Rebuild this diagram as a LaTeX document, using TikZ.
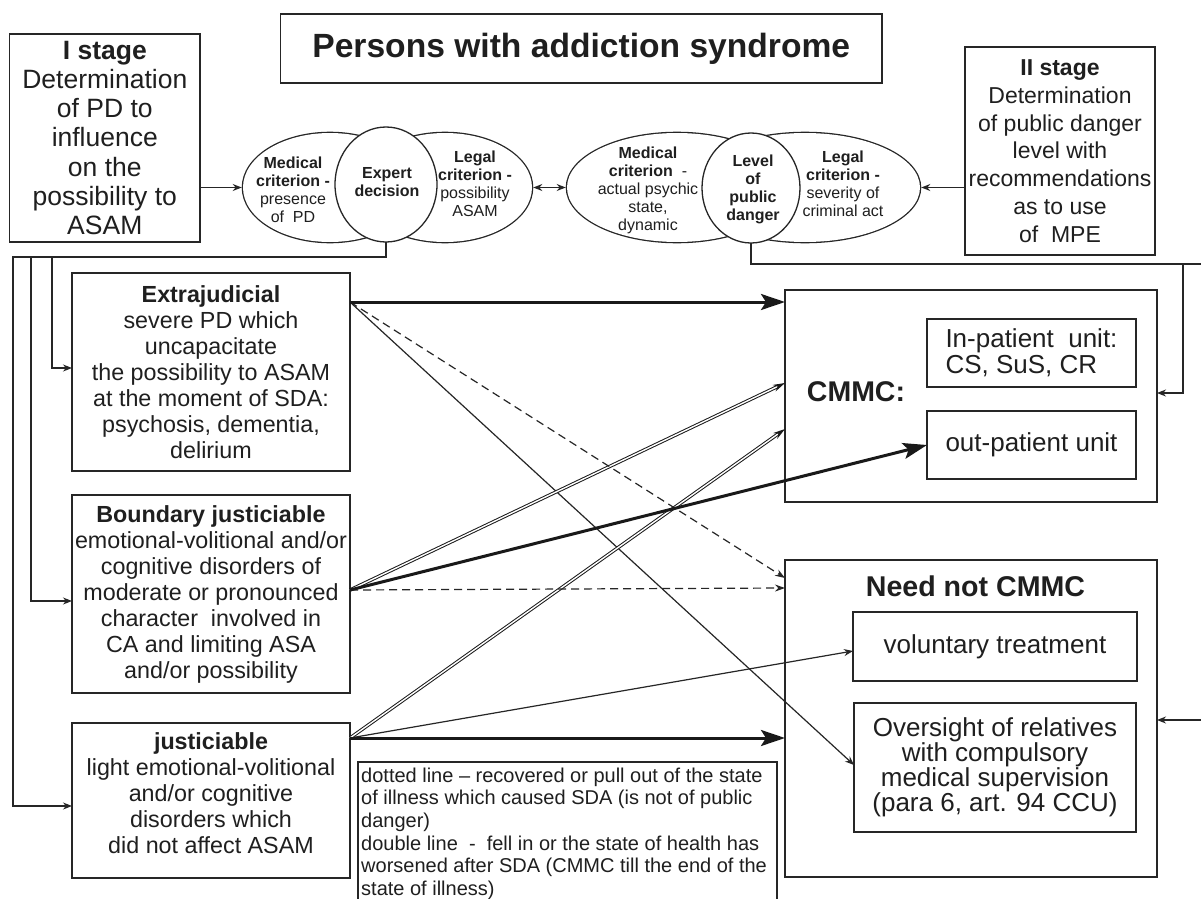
\documentclass[tikz,border=0pt]{standalone}
\usepackage{fontspec}
\setmainfont{Liberation Sans}
\usetikzlibrary{arrows.meta,shapes.geometric}
\newcommand\myfs[2]{\fontsize{#1bp}{#2bp}\selectfont}
\begin{document}
\begin{tikzpicture}[x=1bp,y=-1bp,
  box/.style={draw=black!85, line width=1.3bp, fill=white, inner sep=0pt, outer sep=0pt, text=black!88},
  txt/.style={align=center, inner sep=0pt, text=black!88},
  ellstroke/.style={ellipse, draw=black!85, line width=2.6bp, inner sep=0pt},
  circ/.style={ellipse, draw=black!85, fill=white, line width=1.3bp, inner sep=0pt, outer sep=0pt},
  plain/.style={draw=black!85, line width=1.2bp},
  tarrow/.style={draw=black!85, line width=1.2bp, -{Stealth[length=9bp,width=7bp]}},
  barrow/.style={draw=black!90, line width=3bp, -{Stealth[length=24bp,width=16bp,inset=5bp]}},
  dsh/.style={draw=black!85, line width=1.2bp, dash pattern=on 8bp off 5bp, -{Stealth[length=10bp,width=7bp]}},
  dbl/.style={draw=black!90, line width=1bp, double=white, double distance=1.4bp, -{Stealth[length=12bp,width=7bp]}},
  etxt/.style={txt, font=\myfs{16}{18}}
]
\useasboundingbox (0,0) rectangle (1201,899);
\fill[white] (0,0) rectangle (1201,899);

% ---------- top boxes
\node[box, minimum width=190.4bp, minimum height=208bp, font=\myfs{26.5}{29.2}, align=center] (stage1) at (104.8,138)
  {\textbf{I stage}\\Determination\\of PD to\\influence\\on the\\possibility to\\ASAM};
\node[box, minimum width=601.5bp, minimum height=69bp, font=\myfs{33.6}{36}\bfseries] (title) at (581.25,48.5)
  {Persons with addiction syndrome};
\node[box, minimum width=190bp, minimum height=208bp, font=\myfs{23}{27.8}, align=center] (stage2) at (1060,151)
  {\textbf{II stage}\\Determination\\of public danger\\level with\\recommendations\\as to use\\of~~MPE};

% ---------- ellipse group 1
\node[ellstroke, minimum width=174bp, minimum height=109bp] (med1) at (330,187.5) {};
\node[ellstroke, minimum width=174bp, minimum height=109bp] (leg1) at (445,187.5) {};
\fill[white] (330,187.5) ellipse [x radius=87, y radius=54.5];
\fill[white] (445,187.5) ellipse [x radius=87, y radius=54.5];
\node[circ, minimum width=102bp, minimum height=115bp] (exp1) at (386,184.5) {};
\node[etxt] (med1T) at (293,189.5) {\textbf{Medical}\\\textbf{criterion -}\\presence\\of~~PD};
\node[etxt] (exp1T) at (387,182) {\textbf{Expert}\\\textbf{decision}};
\node[etxt] (leg1T) at (475,184) {\textbf{Legal}\\\textbf{criterion -}\\possibility\\ASAM};

% ---------- ellipse group 2
\node[ellstroke, minimum width=220bp, minimum height=109bp] (med2) at (677,187.5) {};
\node[ellstroke, minimum width=230bp, minimum height=109bp] (leg2) at (805,187.5) {};
\fill[white] (677,187.5) ellipse [x radius=110, y radius=54.5];
\fill[white] (805,187.5) ellipse [x radius=115, y radius=54.5];
\node[circ, minimum width=98bp, minimum height=110bp] (lvl) at (751,188) {};
\node[etxt] (med2T) at (648,190) {\textbf{Medical}\\\textbf{criterion}~~-\\actual psychic\\state,\\dynamic};
\node[etxt] (lvlT) at (753,189.5) {\textbf{Level}\\\textbf{of}\\\textbf{public}\\\textbf{danger}};
\node[etxt] (leg2T) at (843,184) {\textbf{Legal}\\\textbf{criterion -}\\severity of\\criminal act};

% ---------- left boxes
\node[box, minimum width=278bp, minimum height=198bp, font=\myfs{23.3}{26}, align=center] (extra) at (211,372)
  {\textbf{Extrajudicial}\\severe PD which\\uncapacitate\\the possibility to ASAM\\at the moment of SDA:\\psychosis, dementia,\\delirium};
\node[box, minimum width=278bp, minimum height=198bp, font=\myfs{23.3}{26}, align=center] (bound) at (211,594)
  {\textbf{Boundary justiciable}\\emotional-volitional and/or\\cognitive disorders of\\moderate or pronounced\\character~~involved in\\CA and limiting ASA\\and/or possibility};
\node[box, minimum width=278bp, minimum height=155bp] (just) at (211,800.5) {};
\node[txt, font=\myfs{23.3}{26}] (justT) at (211,793)
  {\textbf{justiciable}\\light emotional-volitional\\and/or cognitive\\disorders which\\did not affect ASAM};

% ---------- right boxes
\node[box, minimum width=372bp, minimum height=212bp] (cmmc) at (971,396) {};
\node[txt, font=\myfs{28.5}{30}\bfseries] (cmmcT) at (856,392) {CMMC:};
\node[box, minimum width=209bp, minimum height=68bp, font=\myfs{26}{26}, align=left] (inp) at (1031.5,353)
  {In-patient~~unit:\\CS, SuS, CR};
\node[box, minimum width=209bp, minimum height=68bp, font=\myfs{26}{26}] (outp) at (1031.5,445) {out-patient unit};
\node[box, minimum width=372bp, minimum height=317bp] (need) at (971,718.5) {};
\node[txt, font=\myfs{28.6}{30}\bfseries] (needT) at (975.5,586) {Need not CMMC};
\node[box, minimum width=284bp, minimum height=69bp, font=\myfs{26}{26}] (vol) at (995,646.5) {voluntary treatment};
\node[box, minimum width=282bp, minimum height=129bp, font=\myfs{26}{25}, align=center] (over) at (995,767.5)
  {Oversight of relatives\\with compulsory\\medical supervision\\(para 6, art. 94 CCU)};

% ---------- legend
\node[box, minimum width=419bp, minimum height=143bp] (legend) at (567.5,833.5) {};
\node[txt, align=left, anchor=north west, font=\myfs{20}{22.6}] (legendT) at (361,767.5)
  {dotted line – recovered or pull out of the state\\of illness which caused SDA (is not of public\\danger)\\double line~~-~~fell in or the state of health has\\worsened after SDA (CMMC till the end of the\\state of illness)};

% ---------- top connectors
\draw[tarrow] (stage1.east |- med1.west) -- (med1.west);
\draw[plain, {Stealth[length=9bp,width=7bp]}-{Stealth[length=9bp,width=7bp]}] (leg1.east) -- (med2.west);
\draw[tarrow] (stage2.west |- leg2.east) -- (leg2.east);

% ---------- left bus
\coordinate (b0) at (13,257);
\coordinate (b0e) at (13,806);
\coordinate (b1) at (31,257);
\coordinate (b1e) at (31,601);
\coordinate (b2) at (52,257);
\coordinate (b2e) at (52,368);
\draw[tarrow] (exp1.south) |- (b0) -- (b0e) -- (just.west |- b0e);
\draw[tarrow] (b1) -- (b1e) -- (bound.west |- b1e);
\draw[tarrow] (b2) -- (b2e) -- (extra.west |- b2e);

% ---------- right bus
\coordinate (r0) at (1207,264);
\coordinate (r0e) at (1207,720);
\coordinate (r1) at (1183,264);
\coordinate (r1e) at (1183,393);
\draw[tarrow] (lvl.south) |- (r0) -- (r0e) -- (need.east |- r0e);
\draw[tarrow] (r1) -- (r1e) -- (cmmc.east |- r1e);

% ---------- middle connectors
\coordinate (yA) at (0,302);
\coordinate (yB) at (0,590);
\coordinate (yC) at (0,738);
\coordinate (t1) at (0,578);
\coordinate (t2) at (0,383);
\coordinate (t3) at (0,588);
\coordinate (t4) at (0,429);
\coordinate (t5) at (0,651);
\coordinate (t6) at (0,765);

\draw[tarrow] (extra.east |- yA) -- (over.west |- t6);
\draw[tarrow] (just.east |- yC) -- (vol.west |- t5);
\draw[dbl] (bound.east |- yB) -- (cmmc.west |- t2);
\draw[dbl] (just.east |- yC) -- (cmmc.west |- t4);
\draw[dsh] (extra.east |- yA) -- (need.west |- t1);
\draw[dsh] (bound.east |- yB) -- (need.west |- t3);
\draw[barrow] (extra.east |- yA) -- (cmmc.west |- yA);
\draw[barrow] (bound.east |- yB) -- (outp.west);
\draw[barrow] (just.east |- yC) -- (need.west |- yC);
\end{tikzpicture}
\end{document}
